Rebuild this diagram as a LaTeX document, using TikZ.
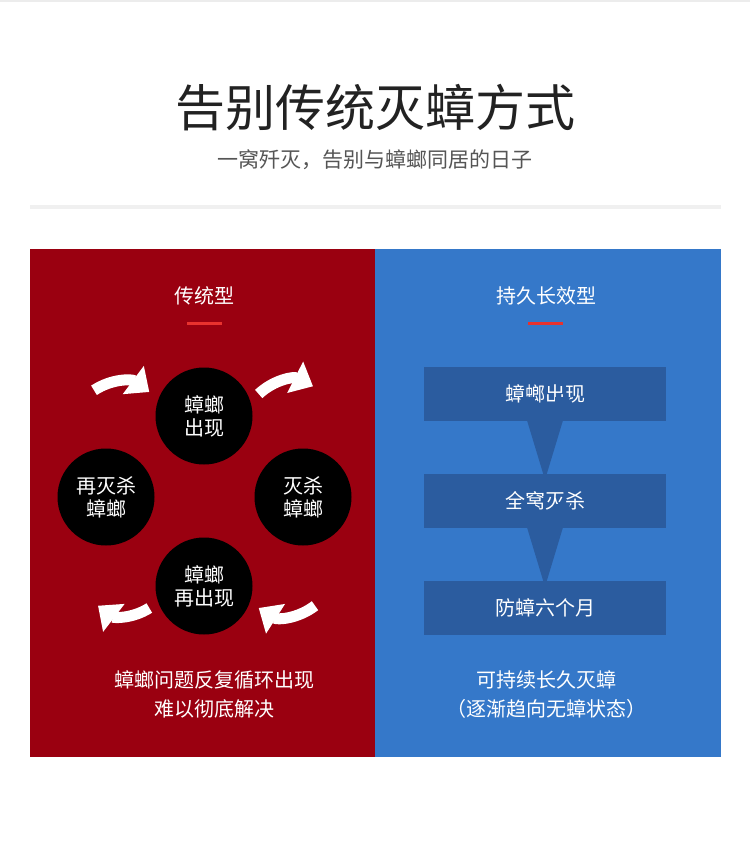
\documentclass[tikz,border=0pt]{standalone}
\usepackage{fontspec}
\setmainfont{Noto Sans CJK SC}
\usetikzlibrary{arrows.meta}
\definecolor{redbg}{HTML}{9A0010}
\definecolor{bluebg}{HTML}{3578C9}
\definecolor{bluebox}{HTML}{2B5C9F}
\definecolor{accent}{HTML}{E8322E}
\definecolor{titlec}{HTML}{222222}
\definecolor{subc}{HTML}{555555}
\tikzset{
  txt/.style={text=white,font=\fontsize{20}{24}\selectfont,align=center,inner sep=0pt},
  circ/.style={circle,fill=black,minimum size=97pt,inner sep=0pt,text=white,font=\fontsize{20}{23}\selectfont,align=center},
  flowbox/.style={fill=bluebox,minimum width=242pt,minimum height=54pt,inner sep=0pt,text=white,font=\fontsize{20}{24}\selectfont},
  cyc/.style={white,line width=11pt,-{Triangle[length=20pt,width=34pt]}},
  flowarrow/.style={fill=bluebox}
}
\begin{document}
\begin{tikzpicture}[x=1pt,y=-1pt]
\useasboundingbox (0,0) rectangle (750,845);
\fill[white] (0,0) rectangle (750,845);
\fill[gray!15] (0,0) rectangle (750,2);
\node[text=titlec,font=\fontsize{50}{56}\selectfont,inner sep=0pt] (title) at (375,108) {告别传统灭蟑方式};
\node[text=subc,font=\fontsize{21}{24}\selectfont,inner sep=0pt] (sub) at (375,160) {一窝歼灭，告别与蟑螂同居的日子};
\fill[gray!12] (30,205) rectangle (721,209);
\fill[redbg] (30,249) rectangle (375,757);
\fill[bluebg] (375,249) rectangle (721,757);
% left
\node[txt] (lh) at (204,296) {传统型};
\fill[accent] (187,322) rectangle (222,325);
\node[circ] (c1) at (204,416) {蟑螂\\出现};
\node[circ] (c2) at (303,497) {灭杀\\蟑螂};
\node[circ] (c3) at (204,586) {蟑螂\\再出现};
\node[circ] (c4) at (106,497) {再灭杀\\蟑螂};
\draw[cyc] ([shift={(6,-22)}]c1.east) to[bend left=35] ([shift={(10,-62)}]c2.north);
\draw[cyc] ([shift={(12,60)}]c2.south) to[bend left=35] ([shift={(6,22)}]c3.east);
\draw[cyc] ([shift={(-6,22)}]c3.west) to[bend left=35] ([shift={(-8,60)}]c4.south);
\draw[cyc] ([shift={(-12,-58)}]c4.north) to[bend left=35] ([shift={(-6,-24)}]c1.west);
\node[txt] (lt1) at (214,680) {蟑螂问题反复循环出现};
\node[txt] (lt2) at (214,709) {难以彻底解决};
% right
\node[txt] (rh) at (546,296) {持久长效型};
\fill[accent] (528,322) rectangle (563,325);
\node[flowbox] (b1) at (545,394) {蟑螂出现};
\node[flowbox] (b2) at (545,501) {全窝灭杀};
\node[flowbox] (b3) at (545,608) {防蟑六个月};
\foreach \a/\b in {b1/b2,b2/b3}{
  \fill[flowarrow] ([xshift=-12]\a.south) .. controls ([xshift=-10,yshift=14]\a.south) .. ([xshift=-10,yshift=24]\a.south)
    -- ([xshift=-25,yshift=24]\a.south) -- ([yshift=-6]\b.north) -- ([xshift=25,yshift=24]\a.south)
    -- ([xshift=10,yshift=24]\a.south) .. controls ([xshift=10,yshift=10]\a.south) .. ([xshift=16]\a.south) -- cycle;
}
\node[txt] (rt1) at (546,680) {可持续长久灭蟑};
\node[txt] (rt2) at (546,709) {（逐渐趋向无蟑状态）};
\end{tikzpicture}
\end{document}
